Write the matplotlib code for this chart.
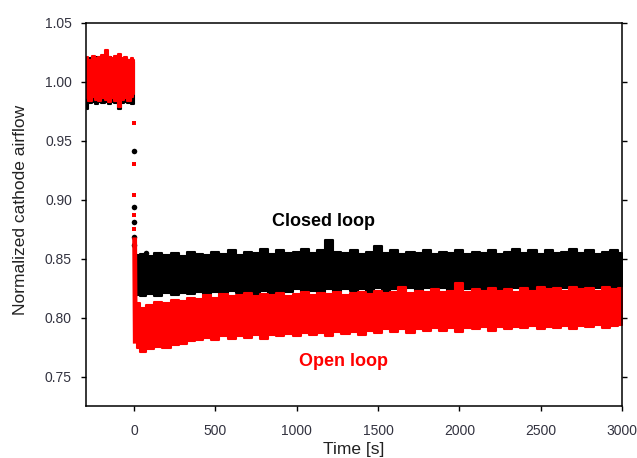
import numpy as np
import matplotlib.pyplot as plt

plt.rcParams['font.family'] = ['Liberation Sans', 'DejaVu Sans']

# before the step (t < 0): band edges
pre_t = [-290, -270, -250, -230, -210, -190, -170, -150, -130, -110, -90, -70, -50, -30, -10, 0]
blk_pre_hi = [1.019, 1.020, 1.018, 1.021, 1.019, 1.020, 1.018, 1.021, 1.019, 1.018, 1.020, 1.017, 1.020, 1.019, 1.018, 1.017]
blk_pre_lo = [0.977, 0.982, 0.983, 0.981, 0.983, 0.982, 0.983, 0.981, 0.983, 0.982, 0.977, 0.982, 0.983, 0.982, 0.981, 0.981]
red_pre_hi = [1.021, 1.019, 1.022, 1.020, 1.021, 1.023, 1.027, 1.021, 1.020, 1.022, 1.024, 1.020, 1.021, 1.019, 1.020, 1.019]
red_pre_lo = [0.986, 0.984, 0.987, 0.985, 0.984, 0.986, 0.985, 0.983, 0.986, 0.984, 0.979, 0.985, 0.986, 0.984, 0.987, 0.990]

# transient points at the step
blk_drop_t = [0, 0, 0, 0, 0, 74]
blk_drop_v = [0.941, 0.894, 0.881, 0.868, 0.862, 0.855]
red_drop_t = [0, 0, 0, 0, 0]
red_drop_v = [0.965, 0.930, 0.904, 0.887, 0.875]
red_fall_t = [4, 8]
red_fall_v = [0.866, 0.780]

# after the step: band edges every 50 s
t = [20] + list(range(50, 3001, 50))
cl_hi = [0.853, 0.854, 0.852, 0.855, 0.853, 0.855, 0.852, 0.856, 0.854, 0.853,
         0.856, 0.854, 0.857, 0.853, 0.856, 0.855, 0.858, 0.854, 0.857, 0.855,
         0.856, 0.858, 0.855, 0.857, 0.866, 0.856, 0.855, 0.857, 0.854, 0.856,
         0.861, 0.855, 0.857, 0.854, 0.856, 0.855, 0.857, 0.854, 0.856, 0.855,
         0.857, 0.854, 0.856, 0.855, 0.857, 0.854, 0.856, 0.858, 0.855, 0.857,
         0.854, 0.857, 0.855, 0.856, 0.858, 0.855, 0.857, 0.854, 0.856, 0.857, 0.855]
cl_lo = [0.819, 0.818, 0.820, 0.818, 0.821, 0.819, 0.821, 0.820, 0.822, 0.820,
         0.822, 0.821, 0.823, 0.821, 0.822, 0.820, 0.823, 0.821, 0.823, 0.822,
         0.824, 0.822, 0.823, 0.821, 0.824, 0.822, 0.824, 0.823, 0.824, 0.822,
         0.825, 0.823, 0.824, 0.823, 0.825, 0.823, 0.825, 0.824, 0.825, 0.823,
         0.826, 0.824, 0.825, 0.824, 0.826, 0.824, 0.826, 0.825, 0.826, 0.824,
         0.826, 0.825, 0.827, 0.825, 0.826, 0.825, 0.827, 0.825, 0.826, 0.825, 0.826]
ol_hi = [0.812, 0.808, 0.811, 0.813, 0.812, 0.815, 0.814, 0.817, 0.816, 0.819,
         0.817, 0.820, 0.818, 0.819, 0.821, 0.818, 0.820, 0.819, 0.821, 0.818,
         0.820, 0.822, 0.819, 0.821, 0.820, 0.822, 0.819, 0.821, 0.822, 0.820,
         0.823, 0.821, 0.822, 0.826, 0.821, 0.823, 0.822, 0.824, 0.822, 0.823,
         0.829, 0.822, 0.824, 0.823, 0.825, 0.823, 0.824, 0.822, 0.825, 0.823,
         0.826, 0.824, 0.825, 0.823, 0.826, 0.824, 0.825, 0.823, 0.826, 0.824, 0.825]
ol_lo = [0.774, 0.771, 0.773, 0.775, 0.774, 0.777, 0.778, 0.780, 0.781, 0.783,
         0.781, 0.784, 0.782, 0.784, 0.783, 0.785, 0.782, 0.785, 0.784, 0.786,
         0.784, 0.787, 0.785, 0.787, 0.784, 0.788, 0.786, 0.788, 0.785, 0.789,
         0.787, 0.790, 0.788, 0.790, 0.787, 0.790, 0.789, 0.791, 0.789, 0.791,
         0.788, 0.791, 0.790, 0.792, 0.789, 0.792, 0.790, 0.792, 0.791, 0.793,
         0.790, 0.792, 0.791, 0.793, 0.790, 0.793, 0.792, 0.794, 0.791, 0.793, 0.794]

fig = plt.figure(figsize=(6.37, 4.58), dpi=100)
ax = fig.add_axes([0.135, 0.1135, 0.8415, 0.8363])

BLK = 'black'
RED = '#ff0000'
band = dict(step='mid', lw=1.5, joinstyle='round', capstyle='round')

# closed loop (black) first, open loop (red) over it
ax.fill_between(pre_t, blk_pre_lo, blk_pre_hi, color=BLK, **band)
ax.fill_between(t, cl_lo, cl_hi, color=BLK, **band)
ax.plot(blk_drop_t, blk_drop_v, 'o', color=BLK, ms=4, mew=0)

ax.fill_between(pre_t, red_pre_lo, red_pre_hi, color=RED, **band)
ax.fill_between(t, ol_lo, ol_hi, color=RED, **band)
ax.plot(red_drop_t, red_drop_v, 's', color=RED, ms=3.5, mew=0)
ax.plot(red_fall_t, red_fall_v, '-', color=RED, lw=3.5)

ax.text(1168, 0.8813, 'Closed loop', color=BLK, fontsize=13, fontweight='bold',
        ha='center', va='center')
ax.text(1285, 0.7627, 'Open loop', color=RED, fontsize=13, fontweight='bold',
        ha='center', va='center')

ax.set_xlim(-295, 3000)
ax.set_ylim(0.725, 1.05)
ax.set_xticks(np.arange(0, 3001, 500))
ax.set_yticks([0.75, 0.80, 0.85, 0.90, 0.95, 1.00, 1.05])
ax.set_yticklabels(['0.75', '0.80', '0.85', '0.90', '0.95', '1.00', '1.05'])

ax.tick_params(axis='x', direction='out', length=3.6, width=1, pad=9.5,
               labelsize=10, labelcolor='#333340')
ax.tick_params(axis='y', direction='out', length=3.6, width=1, pad=6.5,
               labelsize=10, labelcolor='#333340', right=True)
for s in ax.spines.values():
    s.set_linewidth(1.1)

ax.set_xlabel('Time [s]', fontsize=12.5, color='#222222')
ax.set_ylabel('Normalized cathode airflow', fontsize=12.5, color='#222222')
ax.xaxis.set_label_coords(0.5, -0.094)
ax.yaxis.set_label_coords(-0.108, 0.512)

fig.savefig('out.png', dpi=100)
